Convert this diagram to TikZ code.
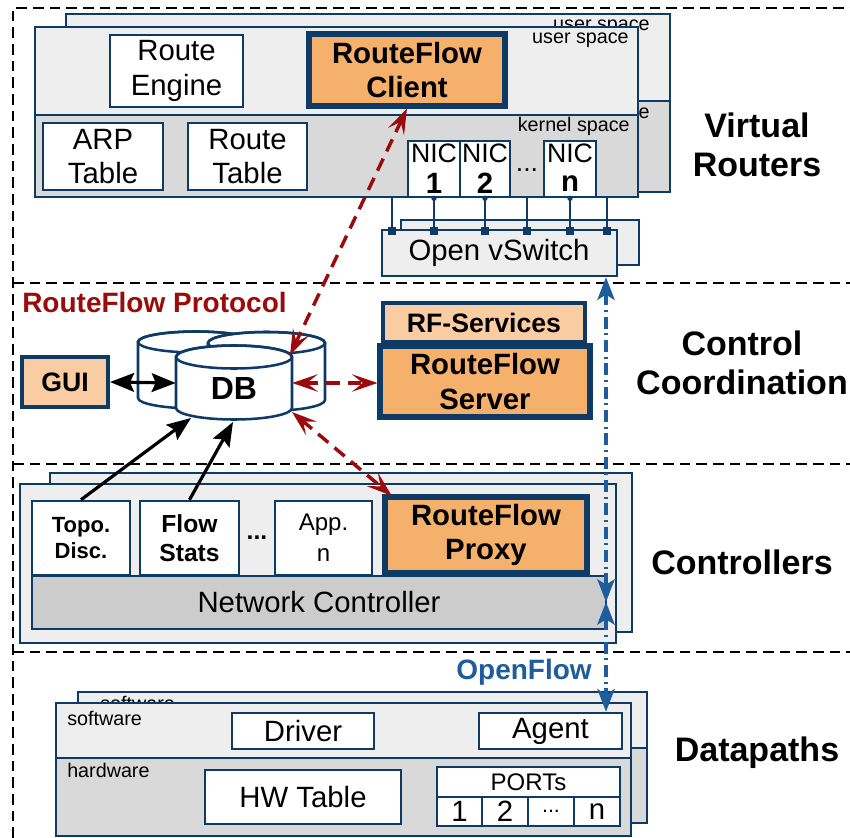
\documentclass[tikz,border=0pt]{standalone}
\usepackage{fontspec}
\setmainfont{Liberation Sans}
\usetikzlibrary{arrows.meta}
\definecolor{navy}{HTML}{0E3A66}
\definecolor{orng}{HTML}{F5B06B}
\definecolor{lorng}{HTML}{F9CCA1}
\definecolor{pgray}{HTML}{EEEEEE}
\definecolor{kgray}{HTML}{D9D9D9}
\definecolor{ngray}{HTML}{CCCCCC}
\definecolor{dred}{HTML}{9C0B0B}
\definecolor{oblue}{HTML}{1F5C9C}
\newcommand\myfs[2]{\fontsize{#1}{#2}\selectfont}
\newcommand\mycyl[5]{%
  \filldraw[draw=navy,line width=1.9pt,fill=white] (#1-#4,#2) -- (#1-#4,#3)
    arc[start angle=180,end angle=0,x radius=#4,y radius=#5] -- (#1+#4,#2)
    arc[start angle=0,end angle=-180,x radius=#4,y radius=#5] -- cycle;
  \draw[navy,line width=1.9pt] (#1,#2) ellipse[x radius=#4,y radius=#5];}
\begin{document}
\begin{tikzpicture}[x=0.75pt,y=-0.75pt,
  corners/.style n args={4}{minimum width={(#3-#1)*0.75pt},minimum height={(#4-#2)*0.75pt},
     at={({(#1+#3)/2},{(#2+#4)/2})}},
  box/.style={draw=navy,line width=1.9pt,fill=white,inner sep=0pt,align=center,font=\myfs{22}{26}},
  rfbox/.style={box,line width=3.8pt,fill=orng,font=\myfs{22}{26}\bfseries},
  lbox/.style={box,line width=3pt,fill=lorng,font=\myfs{20}{24}\bfseries},
  panel/.style={draw=navy,line width=1.9pt},
  small/.style={font=\myfs{14.8}{18},inner sep=0pt},
  sect/.style={align=center,font=\myfs{25.5}{29}\bfseries,inner sep=0pt},
  frame/.style={line width=1.5pt,dash pattern=on 8pt off 4.5pt},
  rftip/.tip={Stealth[length=19pt,width=13pt,inset=8pt]},
  blktip/.tip={Stealth[length=18pt,width=14pt,inset=3pt]},
  oftip/.tip={Stealth[length=17pt,width=13pt,inset=4pt]},
  rfarrow/.style={draw=dred,line width=2.6pt,dash pattern=on 10pt off 6pt,rftip-rftip},
  blkarrow/.style={draw=black,line width=2.4pt,-blktip},
  ofarrow/.style={draw=oblue,line width=2.5pt,dash pattern=on 9pt off 3.5pt on 1.5pt off 3.5pt,oftip-oftip}
]
\useasboundingbox (0,0) rectangle (850,838);

% ---------- frame ----------
\draw[frame] (13,838) -- (13,8) -- (850,8);
\draw[frame] (13,282.5) -- (850,282.5);
\draw[frame] (13,464) -- (850,464);
\draw[frame] (13,652) -- (850,652);

% ---------- Virtual routers ----------
\fill[pgray] (66,14) rectangle (670,101);
\fill[kgray] (66,101) rectangle (670,192);
\node[small,anchor=east] at (650,27) {user space};
\node[small,anchor=east] at (650,113) {kernel space};
\draw[panel] (66,14) rectangle (670,192) (66,101) -- (670,101);

\fill[pgray] (35,27) rectangle (638,115);
\fill[kgray] (35,115) rectangle (638,197);
\draw[panel] (35,27) rectangle (638,197) (35,115) -- (638,115);
\node[small,anchor=east] (us) at (629,40) {user space};
\node[small,anchor=east] (ks) at (630,126) {kernel space};

\node[box,corners={110}{35}{243}{107}] (re) {Route\\Engine};
\node[rfbox,corners={309}{34}{505}{106}] (rfc) {RouteFlow\\Client};
\node[box,corners={43}{123}{163}{190}] (arp) {ARP\\Table};
\node[box,corners={188}{123}{307}{190}] (rt) {Route\\Table};

\node[box,corners={408}{141}{460}{197}] (nic1) {};
\node[box,corners={460}{141}{510}{197}] (nic2) {};
\node[box,corners={544}{141}{596}{197}] (nicn) {};
\foreach \n/\t in {nic1/1,nic2/2,nicn/n}{
  \node[font=\myfs{20}{24},inner sep=0pt] at ([yshift=-10.5pt]\n.north) {NIC};
  \node[font=\myfs{22}{26}\bfseries,inner sep=0pt] at ([yshift=11pt]\n.south) {\t};
}
\node[font=\myfs{20}{24},inner sep=0pt] (ndots) at (527,170) {...};

\node[sect] (vr) at (757,145) {Virtual\\Routers};

% Open vSwitch
\draw[panel,fill=pgray] (401,220) rectangle (639,265);
\coordinate (l1) at (392,197);
\coordinate (l4) at (527,197);
\coordinate (l6) at (607,197);
\node[box,fill=pgray,corners={382}{230}{617}{276}] (ovs) {};
\node[font=\myfs{22}{26},inner sep=0pt] at (499,253) {Open vSwitch};
\foreach \c in {l1,nic1.south,nic2.south,l4,nicn.south,l6}{
  \draw[panel] (\c) -- (\c |- ovs.north);
  \fill[navy] ([xshift=-2.8pt,yshift=1pt]\c |- ovs.north) rectangle ([xshift=2.8pt,yshift=-4.5pt]\c |- ovs.north);
}
\foreach \c in {nic1.south,nic2.south,nicn.south}{
  \fill[navy] (\c) circle[radius=2pt];
}

% ---------- Control coordination ----------
\node[anchor=west,text=dred,font=\myfs{21}{25}\bfseries,inner sep=0pt] (rfp) at (22,302) {RouteFlow Protocol};
\node[lbox,corners={22}{357}{108}{407}] (gui) {GUI};
\mycyl{196}{342}{398}{58}{10.5}
\mycyl{266.5}{343}{400}{58.5}{11}
\mycyl{234}{357}{408}{58}{11.5}
\node[inner sep=0pt,corners={176}{346}{292}{420}] (db) {};
\node[font=\myfs{24}{28}\bfseries,inner sep=0pt] (dbl) at (234,388) {DB};
\node[lbox,corners={383}{303}{585}{342}] (rfs) {RF-Services};
\node[rfbox,corners={380}{346}{590}{417}] (srv) {RouteFlow\\Server};
\node[sect] (cc) at (742,363) {Control\\Coordination};

% ---------- Controllers ----------
\draw[panel,fill=pgray] (50,473) rectangle (632,632);
\draw[panel,fill=pgray] (20,484) rectangle (616,643);
\node[box,font=\myfs{16.5}{19}\bfseries,corners={32}{501}{130}{575}] (topo) {Topo.\\Disc.};
\node[box,font=\myfs{18.5}{22}\bfseries,corners={140}{501}{239}{575}] (flow) {Flow\\Stats};
\node[font=\myfs{18.5}{22}\bfseries,inner sep=0pt] (cdots) at (257,538) {...};
\node[box,font=\myfs{18}{23},corners={275}{501}{372}{575}] (app) {App.\\n};
\node[box,fill=ngray,corners={32}{576}{606}{629}] (nc) {Network Controller};
\node[rfbox,corners={385}{497}{587}{573}] (prx) {RouteFlow\\Proxy};
\node[sect] (ctl) at (742,562) {Controllers};

% ---------- Datapaths ----------
\fill[pgray] (78,692) rectangle (647,748);
\fill[kgray] (78,748) rectangle (647,823);
\node[small,anchor=west] at (100,703) {software};
\draw[panel] (78,692) rectangle (647,823) (78,748) -- (647,748);
\fill[pgray] (56,703) rectangle (631,758);
\fill[kgray] (56,758) rectangle (631,836);
\draw[panel] (56,703) rectangle (631,836) (56,758) -- (631,758);
\node[small,anchor=west] (sw) at (67,718) {software};
\node[small,anchor=west] (hw) at (67,770) {hardware};
\node[box,corners={232}{713}{374}{749}] (drv) {Driver};
\node[box,corners={479}{713}{622}{749}] (agent) {Agent};
\node[box,corners={205}{770}{401}{824}] (hwt) {HW Table};
\node[box,font=\myfs{18}{22},corners={437}{767}{620}{797}] (ports) {PORTs};
\node[box,corners={437}{797}{482}{826}] (p1) {1};
\node[box,corners={482}{797}{528}{826}] (p2) {2};
\node[box,font=\myfs{16}{20},corners={528}{797}{574}{826}] (pd) {...};
\node[box,corners={574}{797}{620}{826}] (pn) {n};
\node[sect] (dp) at (757,753) {Datapaths};

\node[text=oblue,font=\myfs{21}{25}\bfseries,anchor=east,inner sep=0pt] (of) at (592,672) {OpenFlow};

% ---------- connectors ----------
\draw[blkarrow,blktip-blktip] (gui.east) -- (db.west);
\coordinate (dbbl) at (191,418);
\coordinate (dbb) at (233,422);
\draw[blkarrow] (topo.north) -- (dbbl);
\draw[blkarrow] (flow.north) -- (dbb);

\coordinate (dbtr) at (290,355);
\coordinate (dbbr) at (292,412);
\draw[rfarrow] (rfc.south) -- (dbtr);
\draw[rfarrow] (db.east) -- (db.east -| srv.west);
\draw[rfarrow] (dbbr) -- ([xshift=7pt,yshift=-1pt]prx.north west);

\coordinate (ofm) at (606,602);
\draw[ofarrow] (ovs.south -| ofm) -- (ofm);
\draw[ofarrow] (ofm) -- (agent.north -| ofm);
\end{tikzpicture}
\end{document}
